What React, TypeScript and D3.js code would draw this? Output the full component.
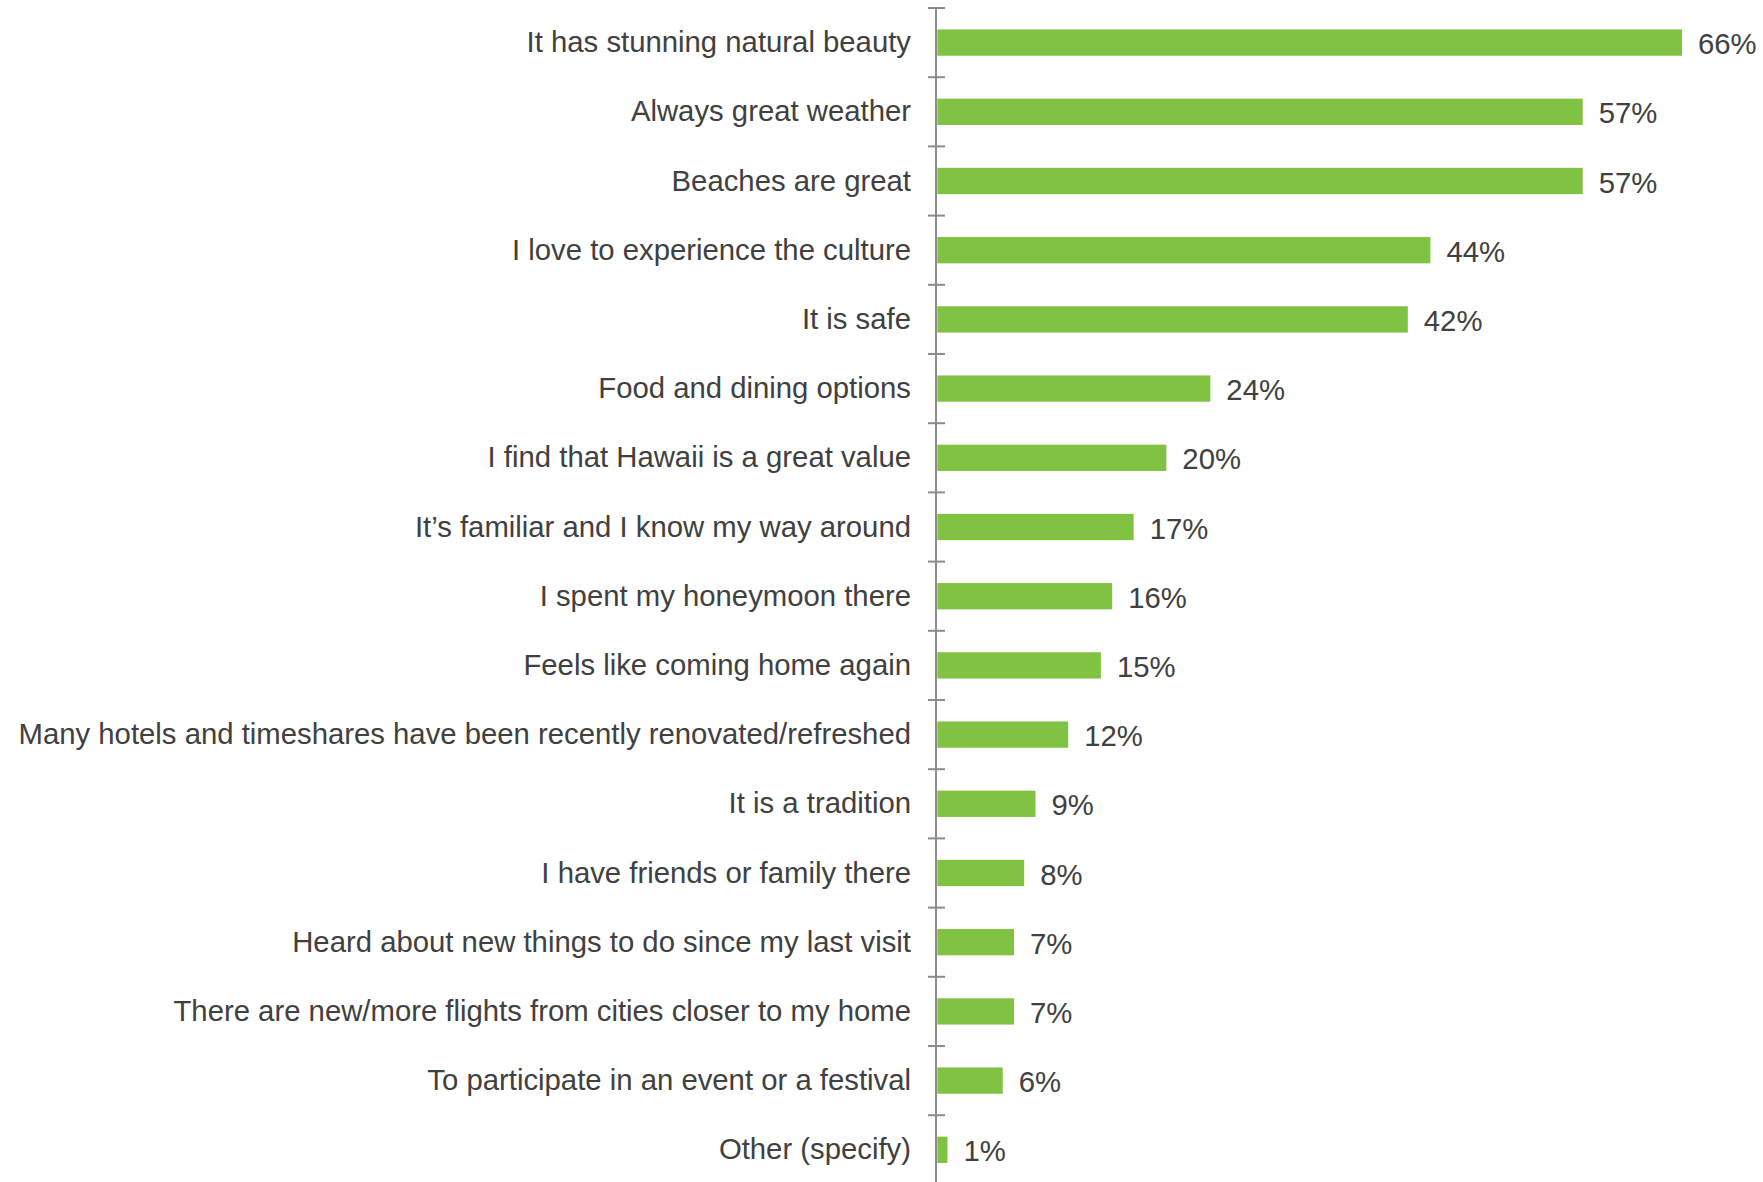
import React from "react";
import * as d3 from "d3";

const categories = [
  "It has stunning natural beauty",
  "Always great weather",
  "Beaches are great",
  "I love to experience the culture",
  "It is safe",
  "Food and dining options",
  "I find that Hawaii is a great value",
  "It’s familiar and I know my way around",
  "I spent my honeymoon there",
  "Feels like coming home again",
  "Many hotels and timeshares have been recently renovated/refreshed",
  "It is a tradition",
  "I have friends or family there",
  "Heard about new things to do since my last visit",
  "There are new/more flights from cities closer to my home",
  "To participate in an event or a festival",
  "Other (specify)",
];
// bar lengths (unrounded)
const barValues = [66, 57.2, 57.2, 43.7, 41.7, 24.2, 20.3, 17.4, 15.5, 14.5, 11.6, 8.7, 7.7, 6.8, 6.8, 5.8, 0.9];
// value labels as printed
const valueLabels = ["66%", "57%", "57%", "44%", "42%", "24%", "20%", "17%", "16%", "15%", "12%", "9%", "8%", "7%", "7%", "6%", "1%"];

const W = 1763;
const H = 1182;

export default function App() {
  const axisX = 936;
  const y = d3.scaleBand<string>().domain(categories).range([8, 8 + 17 * 69.2]).paddingInner(0.62).paddingOuter(0.31);
  const yTicks = d3.scaleBand<string>().domain(categories).range([8, 8 + 17 * 69.2]);
  const x = d3.scaleLinear().domain([0, 66]).range([937.3, 1682]);
  const font = "'Liberation Sans', Arial, sans-serif";
  return (
    <svg width={W} height={H} style={{ position: "absolute", left: 0, top: 0, background: "#fff" }}>
      {categories.map((c, i) => (
        <rect key={c} x={x(0)} y={y(c)} width={x(barValues[i]) - x(0)} height={y.bandwidth()} fill="#80C241" />
      ))}
      <line x1={axisX} x2={axisX} y1={8} y2={H} stroke="#8c8c8c" strokeWidth={2} />
      {categories.map((c) => (
        <line key={"t" + c} x1={axisX - 8} x2={axisX + 9} y1={yTicks(c)} y2={yTicks(c)} stroke="#8c8c8c" strokeWidth={2} />
      ))}
      {categories.map((c) => (
        <text key={"l" + c} x={911} y={(yTicks(c) as number) + yTicks.bandwidth() / 2 - 1} textAnchor="end" dominantBaseline="central" fontFamily={font} fontSize={29.3} fill="#404040">
          {c}
        </text>
      ))}
      {categories.map((c, i) => (
        <text key={"v" + c} x={x(barValues[i]) + 16} y={(yTicks(c) as number) + yTicks.bandwidth() / 2 + 1} dominantBaseline="central" fontFamily={font} fontSize={29.3} fill="#404040">
          {valueLabels[i]}
        </text>
      ))}
    </svg>
  );
}
